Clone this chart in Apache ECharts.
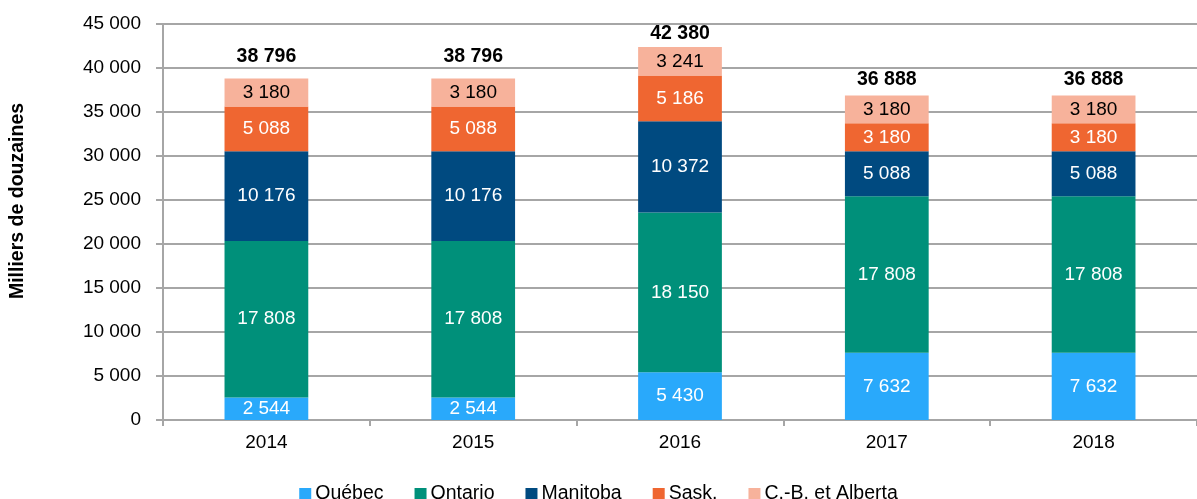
<!DOCTYPE html>
<html>
<head>
<meta charset="utf-8">
<script src="https://cdn.jsdelivr.net/npm/echarts@6/dist/echarts.min.js"></script>
<style>
  html, body { margin: 0; padding: 0; background: #fff; }
  #chart { width: 1197px; height: 499px; }
</style>
</head>
<body>
<div id="chart"></div>
<script>
// données
const years = ['2014', '2015', '2016', '2017', '2018']
const quebec = [2544, 2544, 5430, 7632, 7632]
const ontario = [17808, 17808, 18150, 17808, 17808]
const manitoba = [10176, 10176, 10372, 5088, 5088]
const sask = [5088, 5088, 5186, 3180, 3180]
const cbAlberta = [3180, 3180, 3241, 3180, 3180]
const totals = [38796, 38796, 42380, 36888, 36888]

// écart des étiquettes de total au-dessus des barres (px)
const totalGaps = [12, 12, 3, 6, 6]

const font = '"Liberation Sans Narrow", "Arial Narrow", "Liberation Sans", Arial, sans-serif'

// espace comme séparateur de milliers
const fmt = v => String(v).replace(/\B(?=(\d{3})+(?!\d))/g, ' ')

const chart = echarts.init(document.getElementById('chart'))

const makeSeries = (name, data, color, labelColor) => ({
  name,
  type: 'bar',
  stack: 'total',
  barWidth: '40.5%',
  data,
  itemStyle: { color },
  label: {
    show: true,
    position: 'inside',
    color: labelColor,
    fontFamily: font,
    fontSize: 19,
    formatter: p => fmt(p.value)
  }
})

const options = {
  animation: false,
  textStyle: { fontFamily: font },
  grid: { left: 163, right: 0, top: 24, bottom: 79 },
  legend: {
    top: 479,
    left: 'center',
    itemWidth: 12,
    itemHeight: 12,
    itemGap: 31,
    icon: 'rect',
    textStyle: { fontFamily: font, fontSize: 19.5, color: '#000', padding: [0, 0, 0, -1] },
    data: ['Québec', 'Ontario', 'Manitoba', 'Sask.', 'C.-B. et Alberta']
  },
  xAxis: {
    type: 'category',
    data: years,
    axisLine: { lineStyle: { color: '#a6a6a6', width: 2 } },
    axisTick: { show: true, length: 6, lineStyle: { color: '#a6a6a6', width: 2 } },
    axisLabel: { color: '#000', fontSize: 19, fontFamily: font, margin: 13 }
  },
  yAxis: {
    type: 'value',
    min: 0,
    max: 45000,
    interval: 5000,
    name: 'Milliers de douzaines',
    nameLocation: 'middle',
    nameGap: 135,
    nameRotate: 90,
    nameTextStyle: {
      fontFamily: font,
      fontSize: 19.5,
      fontWeight: 'bold',
      color: '#000',
      padding: [0, 0, 0, 42]
    },
    axisLine: { show: true, lineStyle: { color: '#a6a6a6', width: 2 } },
    axisTick: { show: true, length: 7, lineStyle: { color: '#a6a6a6', width: 2 } },
    splitLine: { lineStyle: { color: '#a6a6a6', width: 2 } },
    axisLabel: { color: '#000', fontSize: 19, fontFamily: font, margin: 22, formatter: v => fmt(v) }
  },
  series: [
    makeSeries('Québec', quebec, '#29a9fb', '#fff'),
    makeSeries('Ontario', ontario, '#00907a', '#fff'),
    makeSeries('Manitoba', manitoba, '#004a80', '#fff'),
    makeSeries('Sask.', sask, '#ef6631', '#fff'),
    makeSeries('C.-B. et Alberta', cbAlberta, '#f7b29b', '#000'),
    {
      name: 'Total',
      type: 'bar',
      stack: 'total',
      barWidth: '40.5%',
      data: totals.map((t, i) => ({ value: 0, label: { distance: totalGaps[i] } })),
      itemStyle: { color: 'transparent' },
      label: {
        show: true,
        position: 'top',
        color: '#000',
        fontWeight: 'bold',
        fontFamily: font,
        fontSize: 19.5,
        formatter: p => fmt(totals[p.dataIndex])
      }
    }
  ]
}

chart.setOption(options)
</script>
</body>
</html>
